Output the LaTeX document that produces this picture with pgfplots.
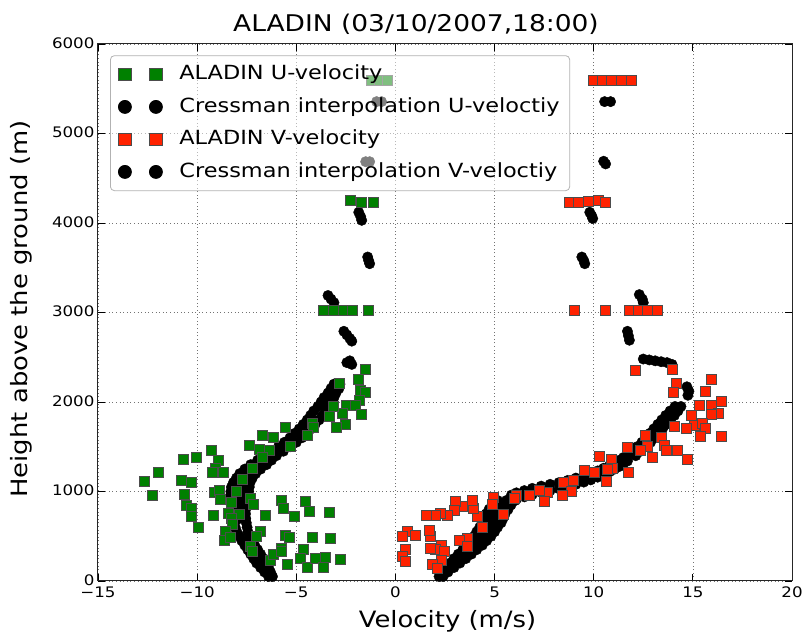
\documentclass[border=0pt]{standalone}
\usepackage{fontspec}
\setmainfont{DejaVu Sans}[FakeStretch=1.15]
\usepackage{pgfplots}
\pgfplotsset{compat=1.18}
\usetikzlibrary{calc}
\definecolor{ugreen}{RGB}{0,128,0}
\definecolor{vred}{RGB}{255,34,0}
\begin{document}
\begin{tikzpicture}
\begin{axis}[name=ax, at={(0,0)}, anchor=south west,
  scale only axis, width=694pt, height=537pt,
  xmin=-15, xmax=20, ymin=0, ymax=6000,
  xtick={-15,-10,-5,0,5,10,15,20},
  xticklabels={−15,−10,−5,0,5,10,15,20},
  ytick={0,1000,2000,3000,4000,5000,6000},
  yticklabels={0,1000,2000,3000,4000,5000,6000},
  tick align=inside, major tick length=7pt,
  tick style={black, line width=0.8pt},
  axis line style={line width=1pt, black!85},
  grid=major, grid style={black!55, line width=0.7pt, dash pattern=on 1pt off 2.6pt},
  ticklabel style={font=\fontsize{14.5}{16}\selectfont},
  xticklabel style={yshift=-2pt},
  yticklabel style={yshift=1pt},
  legend style={at={(0.0173,0.979)}, anchor=north west, draw=black!30, line width=0.8pt,
    fill=white, fill opacity=0.5, draw opacity=1, text opacity=1, rounded corners=4pt,
    font=\fontsize{19.5}{23}\selectfont, inner xsep=8pt, inner ysep=7pt, row sep=9pt,
    nodes={inner sep=2pt, text height=15pt, text depth=4.5pt},
    /tikz/every odd column/.append style={column sep=15pt}},
  legend cell align=left,
  legend image code/.code={\draw[#1] plot coordinates {(0pt,0pt) (31pt,0pt)};},
  legend image post style={fill opacity=1, draw opacity=1},
]
% Cressman interpolation U-velocity (cloud)
\addplot[only marks, mark=*, mark size=5.2pt, black, forget plot] table {
x y
-0.95 5356
-0.7 5356
-1.5 4685
-1.3 4685
-1.85 4120
-1.75 4070
-1.7 4030
-1.4 3620
-1.35 3580
-1.3 3545
-3.4 3190
-3.25 3150
-3.1 3110
-2.6 2790
-2.45 2750
-2.3 2710
-2.2 2680
-2.45 2440
-2.3 2460
-2.2 2420
-6.4 50
-6.2 50
-6.6 100
-6.3 100
-6.8 150
-6.4 150
-7.0 200
-6.5 200
-7.15 250
-6.65 250
-7.3 300
-6.8 300
-7.45 350
-6.95 350
-7.6 400
-7.1 400
-7.75 450
-7.25 450
-7.87 500
-7.37 500
-8.0 550
-7.44 550
-8.08 600
-7.48 600
-8.12 650
-7.52 650
-8.15 700
-7.55 700
-8.2 750
-7.56 750
-8.25 800
-7.55 800
-8.28 850
-7.52 850
-8.32 900
-7.48 900
-8.33 950
-7.43 950
-8.3 1000
-7.4 1000
-8.27 1050
-7.37 1050
-8.17 1100
-7.33 1100
-8.02 1150
-7.22 1150
-7.85 1200
-7.05 1200
-7.6 1250
-6.8 1250
-7.3 1300
-6.5 1300
-6.95 1350
-6.25 1350
-6.6 1400
-6.0 1400
-6.25 1450
-5.65 1450
-5.9 1500
-5.3 1500
-5.6 1550
-5.0 1550
-5.32 1600
-4.72 1600
-5.08 1650
-4.48 1650
-4.85 1700
-4.25 1700
-4.65 1750
-4.05 1750
-4.45 1800
-3.85 1800
-4.28 1850
-3.68 1850
-4.12 1900
-3.52 1900
-3.91 1950
-3.41 1950
-3.75 2000
-3.25 2000
-3.6 2050
-3.1 2050
-3.4 2100
-3.0 2100
-3.25 2150
-2.85 2150
-3.1 2200
-2.8 2200
-7.85 700
-7.88 750
-7.9 800
-7.9 850
-7.9 900
-7.88 950
-7.85 1000
-7.82 1050
-7.75 1100
-7.62 1150
-7.45 1200
-7.2 1250
-6.9 1300
};
% Cressman interpolation V-velocity (cloud)
\addplot[only marks, mark=*, mark size=5.2pt, black, forget plot] table {
x y
10.55 5356
10.85 5356
10.5 4690
10.6 4660
9.8 4120
9.9 4080
9.95 4050
9.4 3620
9.5 3580
9.55 3545
12.3 3200
12.45 3150
12.5 3110
11.7 2790
11.75 2740
11.8 2690
12.5 2480
12.8 2470
13.1 2460
13.4 2450
13.7 2440
13.95 2420
14.7 2170
14.8 2120
14.75 2075
2.2 50
2.4 50
2.35 100
2.65 100
2.55 150
2.95 150
2.75 200
3.25 200
2.95 250
3.55 250
3.17 300
3.83 300
3.4 350
4.1 350
3.62 400
4.38 400
3.8 450
4.6 450
3.98 500
4.82 500
4.1 550
5.0 550
4.25 600
5.15 600
4.37 650
5.33 650
4.47 700
5.43 700
4.57 750
5.53 750
4.72 800
5.68 800
4.87 850
5.83 850
5.15 900
6.05 900
3.5 300
3.75 350
4.0 400
4.2 450
4.4 500
4.55 550
4.7 600
4.85 650
4.95 700
5.05 750
5.2 800
5.35 850
5.6 900
5.85 890
5.85 960
6.1 915
6.1 985
6.5 940
6.5 1010
6.9 965
6.9 1035
7.35 990
7.35 1060
7.8 1010
7.8 1080
8.25 1030
8.25 1100
8.7 1055
8.7 1125
9.1 1080
9.1 1150
9.5 1105
9.5 1175
9.85 1130
9.85 1200
10.2 1160
10.2 1230
10.5 1190
10.5 1260
10.8 1220
10.8 1290
11.05 1250
11.05 1320
11.3 1280
11.3 1350
11.5 1310
11.5 1380
11.7 1340
11.7 1410
11.68 1400
12.12 1400
11.93 1450
12.37 1450
12.18 1500
12.62 1500
12.43 1550
12.87 1550
12.63 1600
13.07 1600
12.83 1650
13.27 1650
13.03 1700
13.47 1700
13.23 1750
13.67 1750
13.43 1800
13.87 1800
13.63 1850
14.07 1850
13.85 1900
14.25 1900
14.1 1950
14.4 1950
};
% ALADIN U-velocity
\addplot[only marks, mark=square*, mark size=5pt, mark options={fill=ugreen, draw=black!70, line width=0.5pt}, forget plot] table {
x y
-1.24 5600
-0.83 5600
-0.43 5600
-2.3 4250
-1.74 4230
-1.1 4230
-3.64 3025
-3.13 3025
-2.63 3025
-2.18 3025
-1.39 3020
-1.5 2365
-2.82 2209
-1.88 2254
-1.76 2127
-1.54 2104
-1.81 2015
-2.48 1966
-2.01 1966
-1.71 1866
-2.69 1873
-3.14 1955
-3.36 1844
-2.55 1754
-2.99 1713
-4.2 1762
-4.15 1717
-4.45 1631
-5.55 1717
-6.73 1631
-6.17 1605
-5.31 1501
-7.35 1520
-6.89 1475
-6.34 1464
-6.73 1382
-7.23 1259
-9.28 1464
-10.68 1360
-10.04 1378
-8.95 1352
-9.08 1259
-9.22 1210
-8.68 1210
-11.94 1210
-12.69 1110
-12.28 961
-10.8 1128
-10.29 1098
-10.63 968
-10.56 849
-10.29 812
-10.29 718
-9.92 600
-9.12 987
-8.88 1017
-8.83 916
-9.17 737
-7.74 1136
-8.02 998
-8.27 879
-8.41 756
-7.9 745
-8.27 700
-8.21 637
-8.58 551
-8.61 450
-8.32 488
-7.31 924
-7.15 860
-6.56 737
-6.84 559
-7.01 503
-7.31 383
-7.23 327
-6.3 235
-6.17 302
-5.77 905
-5.68 812
-5.09 726
-4.54 886
-4.37 774
-3.36 763
-5.55 514
-5.33 484
-5.75 365
-5.75 335
-5.47 187
-4.67 354
-4.2 488
-3.27 477
-4.82 254
-4.45 153
-4.03 254
-3.65 153
-3.56 265
-2.77 246
};
% ALADIN V-velocity
\addplot[only marks, mark=square*, mark size=5pt, mark options={fill=vred, draw=black!70, line width=0.5pt}, forget plot] table {
x y
10.0 5600
10.45 5600
10.9 5600
11.4 5600
11.9 5600
8.76 4230
9.22 4230
9.72 4240
10.23 4255
10.56 4230
9.03 3020
10.56 3020
11.8 3020
12.25 3020
12.7 3020
13.2 3020
12.1 2358
13.98 2369
14.15 2209
14.03 2108
15.92 2257
15.63 2123
16.42 2011
15.33 1966
15.92 1959
16.3 1873
15.92 1862
14.91 1847
15.08 1743
14.66 1706
15.49 1762
15.63 1706
15.36 1620
16.42 1613
14.07 1732
12.58 1631
13.39 1605
13.56 1520
13.65 1464
14.23 1464
14.74 1363
12.97 1378
12.72 1501
12.33 1464
11.68 1490
11.76 1210
10.28 1389
10.87 1360
10.95 1259
10.7 1248
10.62 1110
10.03 1210
9.52 1240
8.96 1128
8.46 1098
8.85 998
8.43 961
7.67 987
7.5 886
7.25 1017
6.74 961
6.07 961
5.98 924
4.94 935
4.89 860
5.43 749
4.38 600
4.13 718
3.91 812
3.85 905
3.37 830
3.04 886
2.95 793
2.62 737
2.28 756
1.99 730
1.56 730
3.63 477
3.21 450
3.63 383
2.33 402
1.78 495
1.73 570
2.03 354
2.45 327
1.74 365
2.33 235
1.86 187
2.11 142
0.6 551
1.02 514
0.34 495
0.51 354
0.34 272
0.48 216
};
\addlegendimage{only marks, mark=square*, mark size=6.2pt, mark options={fill=ugreen, draw=black!70, line width=0.5pt}}
\addlegendentry{ALADIN U-velocity}
\addlegendimage{only marks, mark=*, mark size=6.5pt, black}
\addlegendentry{Cressman interpolation U-veloctiy}
\addlegendimage{only marks, mark=square*, mark size=6.2pt, mark options={fill=vred, draw=black!70, line width=0.5pt}}
\addlegendentry{ALADIN V-velocity}
\addlegendimage{only marks, mark=*, mark size=6.5pt, black}
\addlegendentry{Cressman interpolation V-veloctiy}
\end{axis}
\node[anchor=base, font=\fontsize{23}{26}\selectfont] at ($(ax.north west)+(318pt,12.3pt)$) {ALADIN (03/10/2007,18:00)};
\node[anchor=base, font=\fontsize{22.5}{26}\selectfont] at ($(ax.south west)+(349.5pt,-46pt)$) {Velocity (m/s)};
\node[anchor=base, rotate=90, font=\fontsize{22.5}{26}\selectfont] at ($(ax.south west)+(-70pt,272pt)$) {Height above the ground (m)};
\pgfresetboundingbox
\path[use as bounding box] ($(ax.south west)+(-98pt,-52pt)$) rectangle ($(ax.north east)+(12pt,44pt)$);
\end{tikzpicture}
\end{document}
